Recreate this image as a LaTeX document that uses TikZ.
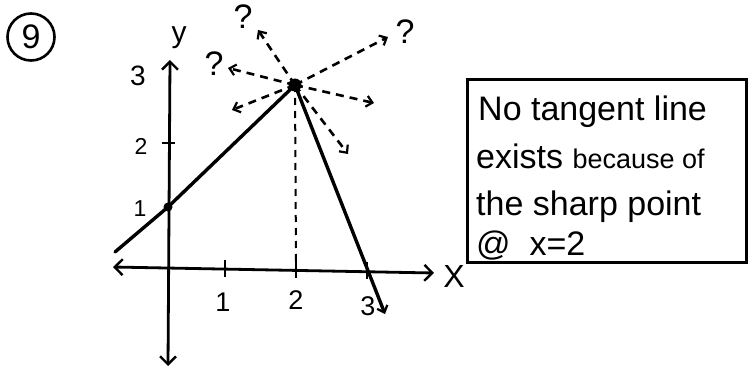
\documentclass[tikz,border=0pt]{standalone}
\usepackage{fontspec}
\setmainfont{Liberation Sans}
\usetikzlibrary{arrows.meta}
\begin{document}
\begin{tikzpicture}[x=1pt,y=-1pt,
  tipbig/.tip={Straight Barb[length=8pt,width=16pt,line width=2.4pt]},
  tipsmall/.tip={Straight Barb[length=6pt,width=11pt,line width=2.2pt]},
  axis/.style={line width=2.8pt,{tipbig}-{tipbig}},
  curve/.style={line width=3.4pt,line cap=round},
  guess/.style={line width=2.6pt,dash pattern=on 8pt off 6pt,-{tipsmall}},
  tick/.style={line width=2.2pt},
  lbl/.style={inner sep=0pt,font=\fontsize{27}{27}\selectfont},
  slbl/.style={inner sep=0pt,font=\fontsize{23}{23}\selectfont},
  qlbl/.style={inner sep=0pt,font=\fontsize{34}{34}\selectfont},
  txt/.style={inner sep=0pt,anchor=base west,font=\fontsize{34}{34}\selectfont},
  dot/.style={circle,fill=black,inner sep=0pt}
]
\useasboundingbox (0,0) rectangle (755,369);
% problem number
\node[circle,draw,line width=2.6pt,minimum size=47pt,inner sep=0pt,font=\fontsize{34}{34}\selectfont] (num) at (31,37) {9};
% axes
\coordinate (xl) at (113,267);
\coordinate (xr) at (434,273);
\coordinate (yt) at (170,60);
\coordinate (yb) at (168,366);
\draw[axis] (xl) -- (xr);
\draw[axis] (yb) -- (yt);
\node[inner sep=0pt,font=\fontsize{32}{32}\selectfont] (xlab) at (454,276) {X};
\node[inner sep=0pt,font=\fontsize{30}{30}\selectfont] (ylab) at (179,38) {y};
% ticks
\coordinate (t1a) at (225,260); \coordinate (t1b) at (225,277);
\coordinate (t2a) at (296,261); \coordinate (t2b) at (296,278);
\coordinate (t3a) at (367,262); \coordinate (t3b) at (367,279);
\draw[tick] (t1a) -- (t1b);
\draw[tick] (t2a) -- (t2b);
\draw[tick] (t3a) -- (t3b);
\coordinate (u2a) at (162,143); \coordinate (u2b) at (175,143);
\draw[tick] (u2a) -- (u2b);
\node[lbl] (n1) at (223,302) {1};
\node[lbl] (n2) at (296,300) {2};
\node[lbl] (n3) at (368,306) {3};
\node[slbl] (m1) at (140,209) {1};
\node[slbl] (m2) at (141,146) {2};
\node[inner sep=0pt,font=\fontsize{28}{28}\selectfont] (m3) at (138,76) {3};
% graph
\coordinate (P) at (295,85);
\coordinate (Y1) at (168,207);
\coordinate (L) at (115,252);
\coordinate (R) at (385,314);
\coordinate (F) at (296,262);
\draw[line width=2pt,dash pattern=on 7pt off 6pt] (P) -- (F);
\draw[curve] (L) -- (Y1) -- (P);
\draw[curve,-{tipsmall}] (P) -- (R);
\node[dot,minimum size=9pt] (d1) at (Y1) {};
% guesses
\coordinate (g1) at (258,30);
\coordinate (g2) at (228,68);
\coordinate (g3) at (232,110);
\coordinate (g4) at (388,37);
\coordinate (g5) at (374,103);
\coordinate (g6) at (348,154);
\foreach \g in {g1,g2,g3,g4,g5,g6} \draw[guess] (P) -- (\g);
\node[dot,minimum size=13pt] (d2) at (P) {};
\node[qlbl] (q1) at (243,17) {?};
\node[qlbl] (q2) at (214,64) {?};
\node[qlbl] (q3) at (405,32) {?};
% box
\coordinate (b1) at (467,80);
\coordinate (b2) at (746,262);
\draw[line width=3pt] (b1) rectangle (b2);
\node[txt] (l1) at (478,121) {No tangent line};
\node[txt] (l2) at (476,168) {exists {\fontsize{27}{27}\selectfont because of}};
\node[txt] (l3) at (476,215) {the sharp point};
\node[txt] (l4) at (476,255) {@\ \ x=2};
\end{tikzpicture}
\end{document}
